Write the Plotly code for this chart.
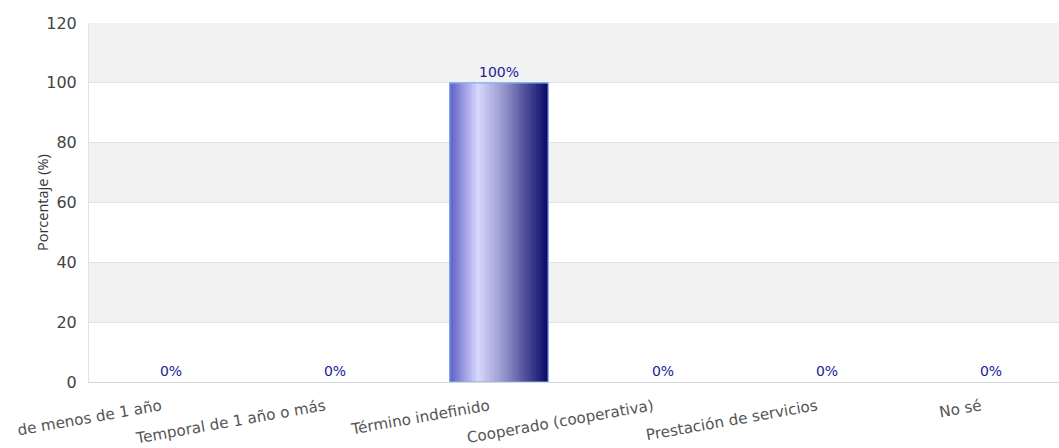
import plotly.graph_objects as go

# Tipo de contrato: porcentaje de respuestas
categorias = [
    "de menos de 1 año",
    "Temporal de 1 año o más",
    "Término indefinido",
    "Cooperado (cooperativa)",
    "Prestación de servicios",
    "No sé",
]
porcentajes = [0, 0, 100, 0, 0, 0]
ticks_y = [0, 20, 40, 60, 80, 100, 120]

# Gradient stops (position across bar width, colour) for the bar fill
gradiente = [
    (0.00, (92, 92, 196)),
    (0.29, (216, 216, 255)),
    (0.55, (150, 150, 205)),
    (0.80, (70, 70, 150)),
    (1.00, (10, 10, 102)),
]

ANCHO_BARRA = 0.6
N_FRANJAS = 60


def color_en(t):
    for (p0, c0), (p1, c1) in zip(gradiente[:-1], gradiente[1:]):
        if p0 <= t <= p1:
            f = (t - p0) / (p1 - p0) if p1 > p0 else 0
            r, g, b = (round(a + (b_ - a) * f) for a, b_ in zip(c0, c1))
            return f"rgb({r},{g},{b})"
    r, g, b = gradiente[-1][1]
    return f"rgb({r},{g},{b})"


fig = go.Figure()

# Gradient fill: thin vertical strips of the same bar, side by side
paso = ANCHO_BARRA / N_FRANJAS
for i in range(N_FRANJAS):
    t = (i + 0.5) / N_FRANJAS
    fig.add_trace(go.Bar(
        x=list(range(len(categorias))),
        y=porcentajes,
        width=paso * 1.05,
        offset=-ANCHO_BARRA / 2 + i * paso,
        marker=dict(color=color_en(t), line=dict(width=0)),
        hoverinfo="skip",
        showlegend=False,
    ))

# Outline + value labels on top
fig.add_trace(go.Bar(
    x=list(range(len(categorias))),
    y=porcentajes,
    width=ANCHO_BARRA,
    marker=dict(
        color="rgba(0,0,0,0)",
        line=dict(
            width=1.2,
            color=["#7db4f0" if v > 0 else "rgba(0,0,0,0)" for v in porcentajes],
        ),
    ),
    text=[f"{v}%" for v in porcentajes],
    textposition="outside",
    cliponaxis=False,
    textfont=dict(family="DejaVu Sans", size=14, color="#20209c"),
    showlegend=False,
))

# Alternating horizontal bands
for k, (y0, y1) in enumerate(zip(ticks_y[:-1], ticks_y[1:])):
    if k % 2 == 1:
        fig.add_shape(type="rect", xref="paper", yref="y", x0=0, x1=1,
                      y0=y0, y1=y1, fillcolor="#f2f2f2", line_width=0,
                      layer="below")

# Y-axis title, placed close to the tick labels
fig.add_annotation(
    text="Porcentaje (%)",
    xref="paper", yref="paper", x=0, y=0.5,
    xanchor="right", yanchor="middle", xshift=-35,
    textangle=-90, showarrow=False,
    font=dict(family="Open Sans", size=14.5, color="#333"),
)

fig.update_layout(
    width=1059,
    height=448,
    margin=dict(l=89, r=0, t=23, b=66, autoexpand=False),
    paper_bgcolor="white",
    plot_bgcolor="white",
    barmode="overlay",
    font=dict(family="DejaVu Sans", color="#444"),
)

fig.update_xaxes(
    tickmode="array",
    tickvals=list(range(len(categorias))),
    ticktext=categorias,
    tickangle=-10,
    tickfont=dict(size=15.2, color="#555"),
    ticklabeloverflow="allow",
    ticklabelshift=-10,
    ticklabelstandoff=9,
    range=[-0.5, 5.4146],
    showgrid=False,
    showline=True,
    linecolor="#d8d8d8",
    linewidth=1,
    ticks="",
    automargin=False,
    fixedrange=True,
)

fig.update_yaxes(
    range=[0, 120],
    tickvals=ticks_y,
    tickfont=dict(size=16, color="#444"),
    showgrid=True,
    gridcolor="#e2e2e2",
    gridwidth=1,
    zeroline=False,
    showline=True,
    linecolor="#e2e2e2",
    ticklabelstandoff=8,
    automargin=False,
    fixedrange=True,
)

fig.write_html("out.html")
